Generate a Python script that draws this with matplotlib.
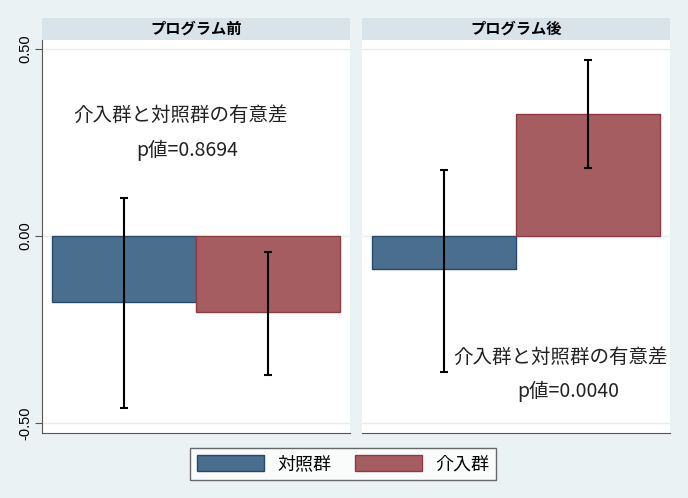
import matplotlib.pyplot as plt
from matplotlib.patches import Patch

plt.rcParams['font.family'] = ['Noto Sans CJK JP', 'DejaVu Sans']

panels = ["プログラム前", "プログラム後"]
groups = ["対照群", "介入群"]
means = [[-0.177, -0.204], [-0.089, 0.325]]
lower = [[-0.46, -0.371], [-0.363, 0.183]]
upper = [[0.102, -0.043], [0.177, 0.470]]
note_title = "介入群と対照群の有意差"
pvalues = ["p値=0.8694", "p値=0.0040"]
yticks = [-0.5, 0.0, 0.5]
ylabels = ["-0.50", "0.00", "0.50"]

colors = ["#4a6e8e", "#a65d62"]
edges = ["#27496b", "#8e3a40"]
bg = "#eaf2f3"

W, H = 688, 498
fig = plt.figure(figsize=(W / 100, H / 100), dpi=100)
fig.patch.set_facecolor(bg)

def box(x0, y0, x1, y1):
    return [x0 / W, 1 - y1 / H, (x1 - x0) / W, (y1 - y0) / H]

lefts = [42, 362]
# (x, y) of the two note lines in pixels
note_pos = [((180, 115), (187, 150)), ((560, 357), (568, 391))]
for i, name in enumerate(panels):
    ax = fig.add_axes(box(lefts[i], 40, lefts[i] + 308, 433))
    ax.set_facecolor("white")
    for y in yticks:
        ax.axhline(y, color="#e4edef", lw=1, zorder=0)
    for j in range(2):
        ax.bar(j, means[i][j], width=1, color=colors[j], edgecolor=edges[j], lw=1, zorder=2)
        ax.vlines(j, lower[i][j], upper[i][j], color="black", lw=1.5, zorder=3)
        ax.hlines([lower[i][j], upper[i][j]], j - 0.03, j + 0.03, color="black", lw=1.5, zorder=3)
    ax.set_xlim(-0.57, 1.57)
    ax.set_ylim(-0.527, 0.524)
    ax.set_xticks([])
    for s in ["top", "right"]:
        ax.spines[s].set_visible(False)
    ax.spines["bottom"].set_color("#555555")
    if i == 0:
        ax.spines["left"].set_color("#555555")
        ax.set_yticks(yticks)
        ax.set_yticklabels(ylabels, rotation=90, va="center", fontsize=10.5,
                           family=["Liberation Sans", "DejaVu Sans"])
        ax.tick_params(axis="y", length=5, color="#555555", pad=2)
    else:
        ax.spines["left"].set_visible(False)
        ax.set_yticks([])
    hd = fig.add_axes(box(lefts[i], 18, lefts[i] + 308, 40))
    hd.set_facecolor("#d8e4ea")
    hd.set_xticks([])
    hd.set_yticks([])
    for s in hd.spines.values():
        s.set_visible(False)
    hd.text(0.5, 0.5, name, ha="center", va="center", fontsize=11, fontweight="bold")
    (x1, y1), (x2, y2) = note_pos[i]
    fig.text(x1 / W, 1 - y1 / H, note_title, ha="center", va="center", fontsize=14, color="#222222")
    fig.text(x2 / W, 1 - y2 / H, pvalues[i], ha="center", va="center", fontsize=14, color="#222222")

handles = [Patch(facecolor=colors[k], edgecolor=edges[k], label=groups[k]) for k in range(2)]
leg = fig.legend(handles=handles, loc="center", bbox_to_anchor=(343 / W, 1 - 464 / H), ncol=2,
                 frameon=True, fancybox=False, edgecolor="#444444", fontsize=13,
                 handlelength=3.7, handleheight=1.0, columnspacing=1.3, handletextpad=0.75,
                 borderpad=0.4, borderaxespad=0)
leg.get_frame().set_linewidth(1)

fig.savefig("out.png", dpi=100, facecolor=bg)
